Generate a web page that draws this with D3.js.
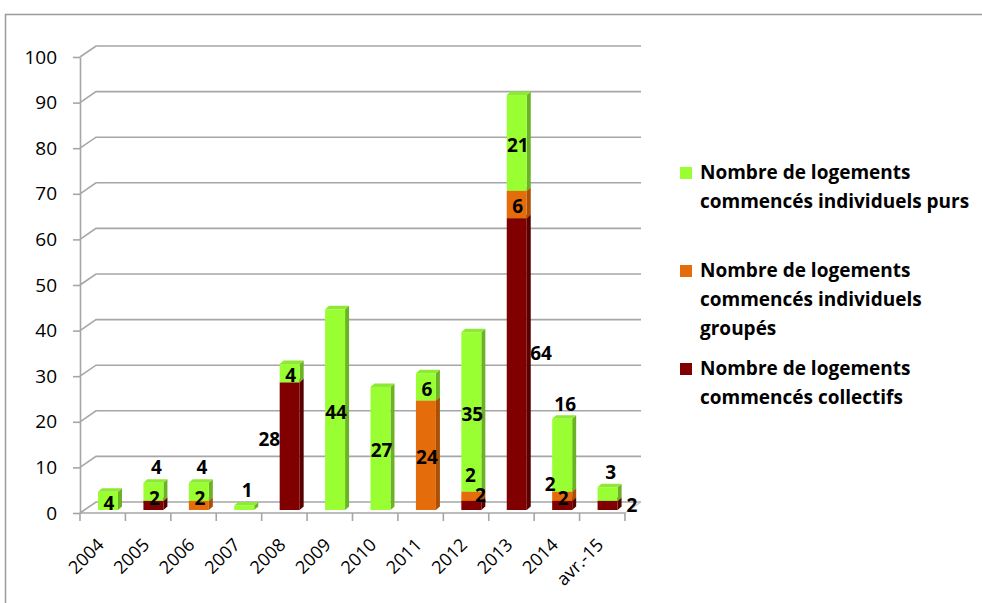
<!DOCTYPE html>
<html>
<head>
<meta charset="utf-8">
<script src="https://cdn.jsdelivr.net/npm/d3@7"></script>
<style>
  html, body { margin: 0; padding: 0; background: #fff; }
  svg { display: block; }
  text { font-family: "Open Sans", Lato, sans-serif; }
</style>
</head>
<body>
<svg id="chart" width="982" height="603"></svg>
<script>
// ---------- data ----------
const categories = ["2004","2005","2006","2007","2008","2009","2010","2011","2012","2013","2014","avr.-15"];
const collectifs = [0, 2, 0, 0, 28, 0, 0, 0, 2, 64, 2, 2];
const groupes    = [0, 0, 2, 0, 0, 0, 0, 24, 2, 6, 2, 0];
const purs       = [4, 4, 4, 1, 4, 44, 27, 6, 35, 21, 16, 3];
const yTicks = [0, 10, 20, 30, 40, 50, 60, 70, 80, 90, 100];
const seriesKeys = ["collectifs", "groupes", "purs"];
const seriesColors = {
  collectifs: { front: "#800000", side: "#560000", top: "#6e0000" },
  groupes:    { front: "#E46C0A", side: "#A94F06", top: "#D0620A" },
  purs:       { front: "#99FF33", side: "#6BB324", top: "#8EE836" }
};
const legendItems = [
  { key: "purs",       lines: ["Nombre de logements", "commencés individuels purs"] },
  { key: "groupes",    lines: ["Nombre de logements", "commencés individuels", "groupés"] },
  { key: "collectifs", lines: ["Nombre de logements", "commencés collectifs"] }
];
// label placement keywords (Excel 3D label placement)
const labelPlace = {
  collectifs: ["", "c", "", "", "l", "", "", "", "cr", "r", "c", "r2"],
  groupes:    ["", "", "c", "", "", "", "", "c", "u", "c", "ul", ""],
  purs:       ["c", "t", "t", "t", "c", "c", "c", "c", "c", "c", "t", "t"]
};
const seriesValues = { collectifs, groupes, purs };

// ---------- layout ----------
const svg = d3.select("#chart");
const DX = 16, DY = -11;          // wall depth
const BDX = 4, BDY = -3.5;        // bar depth
const barOffset = 18, barW = 20, barLift = 3;

const x = d3.scaleBand().domain(categories).range([80, 625]).paddingInner(0).paddingOuter(0);
const y = d3.scaleLinear().domain([0, 100]).range([513, 57]);

// outer border
svg.append("path")
  .attr("d", "M5.5,603 L5.5,14.5 L982,14.5")
  .attr("fill", "none").attr("stroke", "#9a9a9a").attr("stroke-width", 1.5);

// gridlines (back wall) with diagonal connectors
const grid = svg.append("g");
grid.selectAll("path.g").data(yTicks).join("path")
  .attr("d", v => `M80,${y(v)} L${80 + DX},${y(v) + DY} L${625 + DX},${y(v) + DY}`)
  .attr("fill", "none").attr("stroke", "#a6a6a6").attr("stroke-width", 1.6);
// floor right edge
grid.append("path")
  .attr("d", `M625,${y(0)} L${625 + DX},${y(0) + DY}`)
  .attr("stroke", "#c8c8c8").attr("stroke-width", 1.2);

// y axis
const yAxis = svg.append("g").attr("transform", "translate(80,0)")
  .call(d3.axisLeft(y).tickValues(yTicks).tickSize(7).tickSizeOuter(0).tickPadding(16));
yAxis.select(".domain").attr("stroke", "#a6a6a6").attr("stroke-width", 1.6);
yAxis.selectAll(".tick line").attr("stroke", "#a6a6a6").attr("stroke-width", 1.6);
yAxis.selectAll(".tick text").attr("font-size", 19).attr("fill", "#000")
  .attr("font-family", "'Open Sans', sans-serif");

// x axis line and boundary ticks
const xg = svg.append("g");
xg.append("line").attr("x1", 80).attr("x2", 625).attr("y1", y(0)).attr("y2", y(0))
  .attr("stroke", "#a6a6a6").attr("stroke-width", 1.6);
const edges = categories.map(c => x(c)).concat([x.range()[1]]);
xg.selectAll("line.t").data(edges).join("line")
  .attr("x1", d => d).attr("x2", d => d).attr("y1", y(0)).attr("y2", y(0) + 8)
  .attr("stroke", "#a6a6a6").attr("stroke-width", 1.6);
xg.selectAll("text").data(categories).join("text")
  .attr("transform", c => `translate(${x(c) + x.bandwidth() / 2 + 2.3},546) rotate(-45)`)
  .attr("text-anchor", "end").attr("font-size", 18).attr("fill", "#000")
  .text(c => c);

// ---------- bars ----------
const by = v => y(v) - barLift;
const segs = [];
categories.forEach((c, i) => {
  let acc = 0;
  seriesKeys.forEach(k => {
    const v = seriesValues[k][i];
    if (v > 0) {
      segs.push({ c, i, k, v, y0: acc, y1: acc + v, total: 0 });
    }
    acc += v;
  });
  segs.filter(s => s.c === c).forEach(s => s.total = acc);
});

const bars = svg.append("g");
segs.forEach(s => {
  const L = x(s.c) + barOffset, R = L + barW;
  const yb = by(s.y0), yt = by(s.y1);
  const col = seriesColors[s.k];
  const g = bars.append("g");
  g.append("path").attr("d", `M${R},${yb} L${R + BDX},${yb + BDY} L${R + BDX},${yt + BDY} L${R},${yt} Z`)
    .attr("fill", col.side);
  g.append("path").attr("d", `M${L},${yt} L${R},${yt} L${R + BDX},${yt + BDY} L${L + BDX},${yt + BDY} Z`)
    .attr("fill", col.top);
  g.append("rect").attr("x", L).attr("y", yt).attr("width", barW).attr("height", yb - yt)
    .attr("fill", col.front);
});

// ---------- value labels ----------
const labels = svg.append("g");
segs.forEach(s => {
  const place = labelPlace[s.k][s.i];
  if (!place) return;
  const L = x(s.c) + barOffset, R = L + barW, cx = L + barW / 2;
  const yb = by(s.y0), yt = by(s.y1), cy = (yb + yt) / 2;
  const topY = by(s.total);
  let px = cx + 1, py = cy + 2, anchor = "middle";
  const small = (yb - yt) < 12;
  if (place === "c") { px = cx + 1; py = small ? cy - 7 : cy + 2; }
  else if (place === "cr") { px = cx + 9; py = cy - 10; }
  else if (place === "u") { px = cx - 1; py = cy - 21; }
  else if (place === "ul") { px = cx - 12; py = cy - 12; }
  else if (place === "t") { px = cx + 3; py = topY - 15; }
  else if (place === "l") { px = L + 0.5; py = cy - 7; anchor = "end"; }
  else if (place === "r") { px = R + 3.5; py = cy - 11; anchor = "start"; }
  else if (place === "r2") { px = R + 9; py = cy; anchor = "start"; }
  labels.append("text").attr("x", px).attr("y", py).attr("dy", "0.36em")
    .attr("text-anchor", anchor).attr("font-size", 19).attr("font-weight", "bold")
    .attr("fill", "#000").text(s.v);
});

// ---------- legend ----------
const legendTop = [179, 277, 375];
const legend = svg.append("g");
legendItems.forEach((it, j) => {
  const base = legendTop[j];
  legend.append("rect").attr("x", 680).attr("y", base - 12).attr("width", 12).attr("height", 12)
    .attr("fill", seriesColors[it.key].front);
  const t = legend.append("text").attr("x", 700).attr("y", base)
    .attr("font-size", 19).attr("font-weight", "bold").attr("fill", "#000");
  it.lines.forEach((ln, m) => {
    t.append("tspan").attr("x", 700).attr("y", base + m * 29).text(ln);
  });
});
</script>
</body>
</html>
